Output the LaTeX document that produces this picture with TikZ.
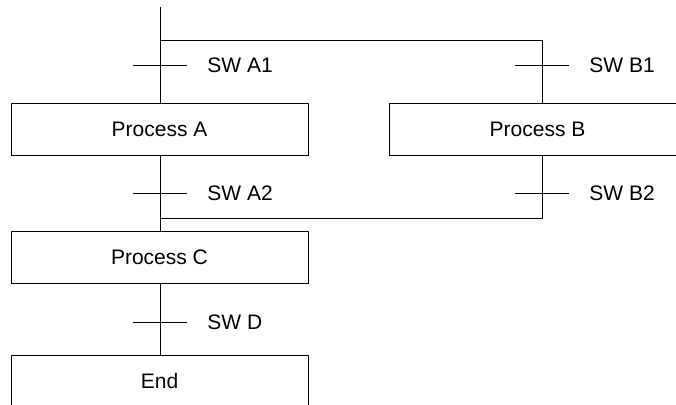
\documentclass[tikz,border=0pt]{standalone}
\usepackage{fontspec}
\setmainfont{Liberation Sans}
\tikzset{stepbox/.style={draw, minimum width=297pt, minimum height=52pt, inner sep=0pt, font=\fontsize{21}{25}\selectfont},
  swlabel/.style={anchor=west, inner sep=0pt, font=\fontsize{21}{25}\selectfont}}

\begin{document}
\begin{tikzpicture}[x=1pt, y=-1pt, line width=0.9pt]
            \useasboundingbox (0,0) rectangle (676,404);
            \node[stepbox] (pa) at (159.5,129) {Process A};
            \node[stepbox] (pb) at (537.5,129) {Process B};
            \node[stepbox] (pc) at (159.5,257.5) {Process C};
            \node[stepbox] (pe) at (159.5,381) {End};
            \coordinate (top) at (160,7); \coordinate (fork) at (160,40); \coordinate (forkb) at (542,40);
            \coordinate (sa1) at (160,65); \coordinate (sb1) at (542,65);
            \coordinate (sa2) at (160,193); \coordinate (sb2) at (542,193);
            \coordinate (join) at (160,218); \coordinate (joinb) at (542,218); \coordinate (sd) at (160,322);
            % Main line and branch
            \draw (top) -- (pa.north -| top) (pa.south -| top) -- (pc.north -| top) (pc.south -| top) -- (pe.north -| top);
            \draw (fork) -- (forkb) -- (pb.north -| forkb) (pb.south -| forkb) -- (joinb) -- (join);
            % Transitions
            \foreach \sw/\txt in {sa1/SW A1, sb1/SW B1, sa2/SW A2, sb2/SW B2, sd/SW D}{
              \draw ([xshift=-27pt]\sw) -- ([xshift=27pt]\sw);
              \node[swlabel] at ([xshift=47pt]\sw) {\txt};
            }
        \end{tikzpicture}
\end{document}
